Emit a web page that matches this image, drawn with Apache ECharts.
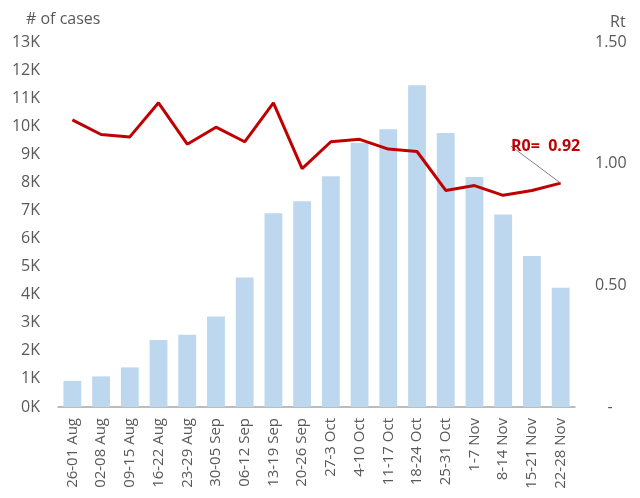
<!DOCTYPE html>
<html>
<head>
<meta charset="utf-8">
<script src="https://cdn.jsdelivr.net/npm/echarts@6/dist/echarts.min.js"></script>
<style>
html,body{margin:0;padding:0;background:#fff;}
#chart{width:640px;height:498px;}
</style>
</head>
<body>
<div id="chart"></div>
<script>
// weekly periods
var weeks = ['26-01 Aug','02-08 Aug','09-15 Aug','16-22 Aug','23-29 Aug','30-05 Sep','06-12 Sep','13-19 Sep','20-26 Sep',
  '27-3 Oct','4-10 Oct','11-17 Oct','18-24 Oct','25-31 Oct','1-7 Nov','8-14 Nov','15-21 Nov','22-28 Nov'];
// # of cases (thousands)
var cases = [0.93,1.09,1.41,2.39,2.57,3.22,4.61,6.9,7.33,8.22,9.4,9.89,11.46,9.76,8.19,6.86,5.38,4.25];
// Rt
var rt = [1.18,1.12,1.11,1.25,1.08,1.15,1.09,1.25,0.98,1.09,1.10,1.06,1.05,0.89,0.91,0.87,0.89,0.92];

var labelFont = 'Open Sans';
var grey = '#595959';

var chart = echarts.init(document.getElementById('chart'));
var option = {
  animation: false,
  textStyle: {fontFamily: labelFont},
  title: [
    {text: '# of cases', left: 21, top: 6, textStyle: {color: grey, fontSize: 16, fontWeight: 'normal', fontFamily: labelFont}},
    {text: 'Rt', left: 605, top: 9, textStyle: {color: grey, fontSize: 16, fontWeight: 'normal', fontFamily: labelFont}}
  ],
  grid: {left: 58, right: 65, top: 42, bottom: 91, containLabel: false},
  xAxis: {
    type: 'category',
    data: weeks,
    axisLine: {lineStyle: {color: '#a6a6a6', width: 1.5}},
    axisTick: {show: false},
    axisLabel: {rotate: 90, color: grey, fontSize: 15, margin: 11, interval: 0}
  },
  yAxis: [
    {
      type: 'value', min: 0, max: 13, interval: 1,
      axisLine: {show: false}, axisTick: {show: false}, splitLine: {show: false},
      axisLabel: {color: grey, fontSize: 16, margin: 18, formatter: function (v) { return v + 'K'; }}
    },
    {
      type: 'value', min: 0, max: 1.5, interval: 0.5, position: 'right',
      axisLine: {show: false}, axisTick: {show: false}, splitLine: {show: false},
      axisLabel: {color: grey, fontSize: 16, margin: 20,
        formatter: function (v) { return v === 0 ? '   -' : v.toFixed(2); }}
    }
  ],
  series: [
    {
      type: 'bar', data: cases, barWidth: '62%', yAxisIndex: 0,
      itemStyle: {color: '#BDD7EE'}
    },
    {
      type: 'line', data: rt.map(function (v, i) {
        if (i === rt.length - 1) {
          return {value: v, label: {show: true, formatter: 'R0=  ' + v.toFixed(2)}};
        }
        return v;
      }),
      yAxisIndex: 1, symbol: 'circle', symbolSize: 0, showSymbol: true,
      itemStyle: {color: '#C00000'},
      lineStyle: {color: '#C00000', width: 3},
      label: {show: false, color: '#C00000', fontWeight: 'bold', fontSize: 16, fontFamily: labelFont},
      labelLayout: {dx: -15, dy: -24},
      labelLine: {show: true, lineStyle: {color: '#808080', width: 1}}
    }
  ]
};
chart.setOption(option);
</script>
</body>
</html>
